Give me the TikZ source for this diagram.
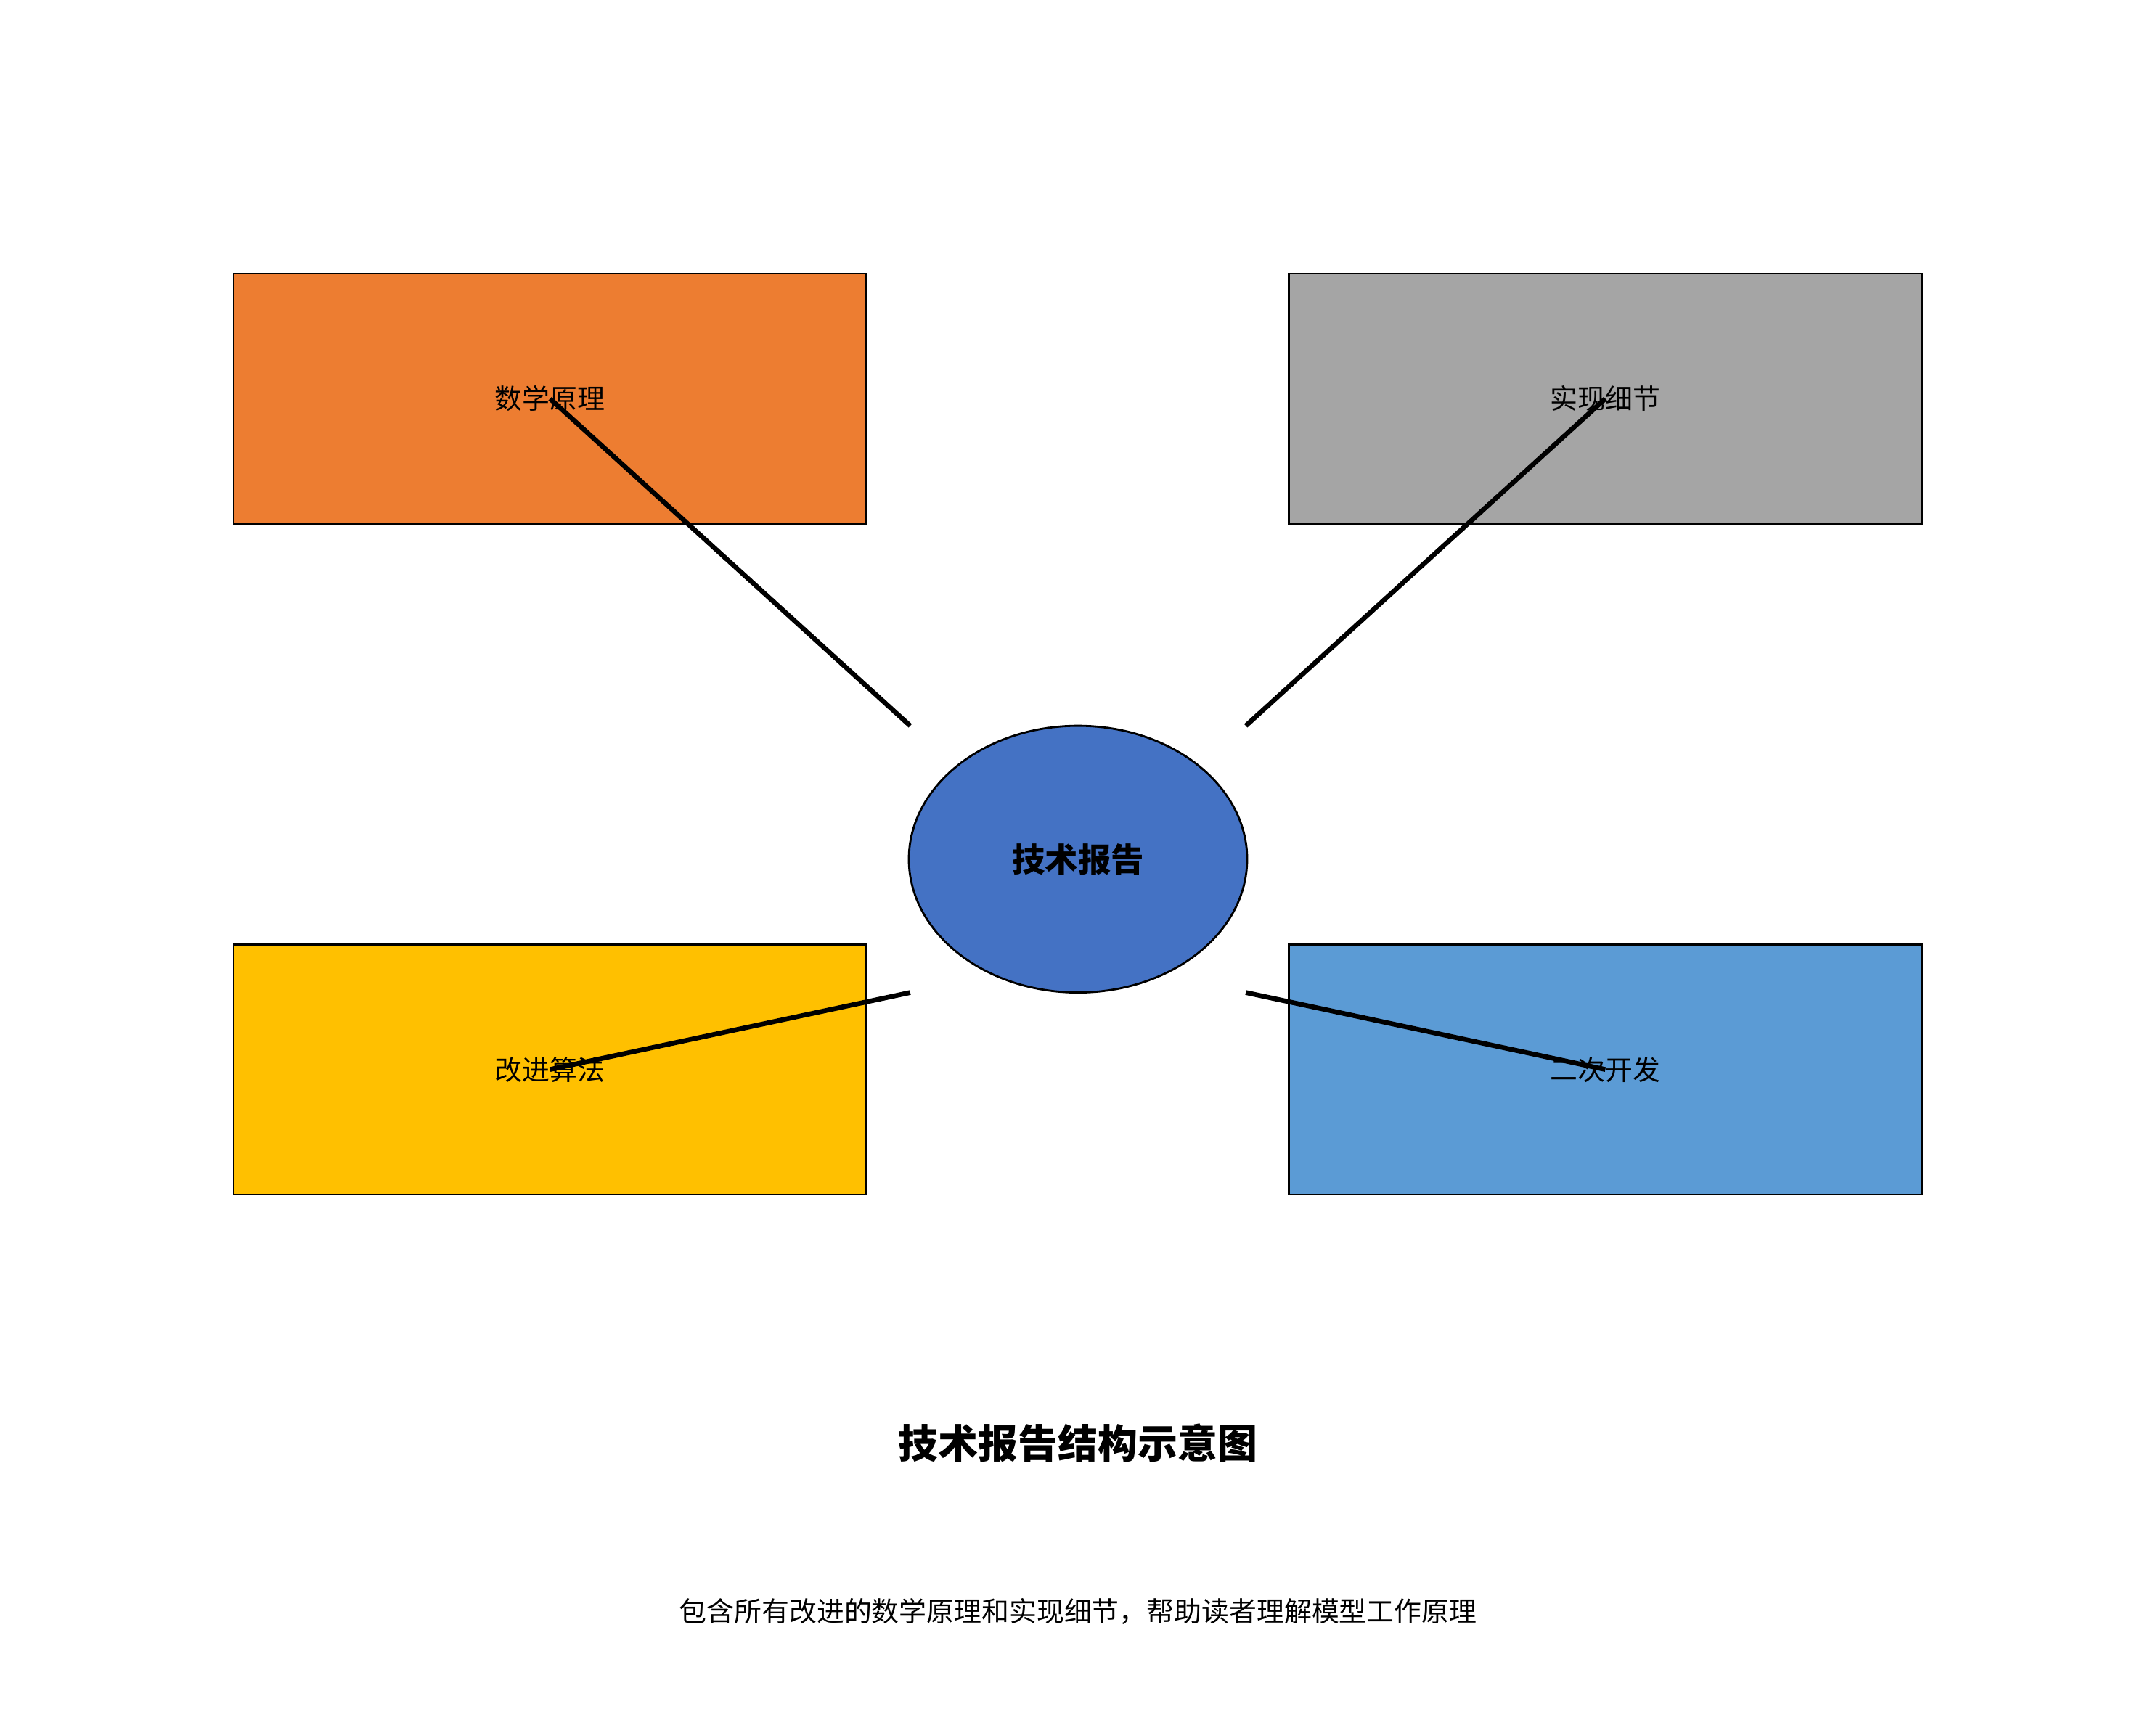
\documentclass[tikz,border=0pt]{standalone}
\usepackage{fontspec}
\usetikzlibrary{shapes.geometric}
\newfontfamily\cjk{Noto Sans CJK SC}
\begin{document}
\begin{tikzpicture}[x=1pt,y=-1pt,
  box/.style={draw=black,line width=1.5pt,minimum width=460pt,minimum height=182pt,inner sep=0pt},
  lbl/.style={font=\cjk\fontsize{20}{24}\selectfont},
  conn/.style={line width=3.5pt,black}]
\useasboundingbox (0,0) rectangle (1568,1251);
\fill[white] (0,0) rectangle (1568,1251);
\node[box,fill={rgb,255:red,237;green,125;blue,49}] (b1) at (400,290) {};
\node[box,fill={rgb,255:red,165;green,165;blue,165}] (b2) at (1167.5,290) {};
\node[box,fill={rgb,255:red,255;green,192;blue,0}] (b3) at (400,778) {};
\node[box,fill={rgb,255:red,91;green,155;blue,213}] (b4) at (1167.5,778) {};
\node[lbl] at (b1) {数学原理};
\node[lbl] at (b2) {实现细节};
\node[lbl] at (b3) {改进算法};
\node[lbl] at (b4) {二次开发};
\node[draw=black,line width=1.5pt,ellipse,fill={rgb,255:red,68;green,114;blue,196},minimum width=246pt,minimum height=194pt,inner sep=0pt,font=\cjk\bfseries\fontsize{24}{28}\selectfont] (c) at (784,625) {技术报告};
\coordinate (c1) at (662,528);
\coordinate (c2) at (906,528);
\coordinate (c3) at (662,722);
\coordinate (c4) at (906,722);
\draw[conn] (c1) -- (b1.center);
\draw[conn] (c2) -- (b2.center);
\draw[conn] (c3) -- (b3.center);
\draw[conn] (c4) -- (b4.center);
\node[font=\cjk\bfseries\fontsize{29}{34}\selectfont] (t) at (784,1050) {技术报告结构示意图};
\node[lbl] (s) at (784,1172) {包含所有改进的数学原理和实现细节，帮助读者理解模型工作原理};
\end{tikzpicture}
\end{document}
